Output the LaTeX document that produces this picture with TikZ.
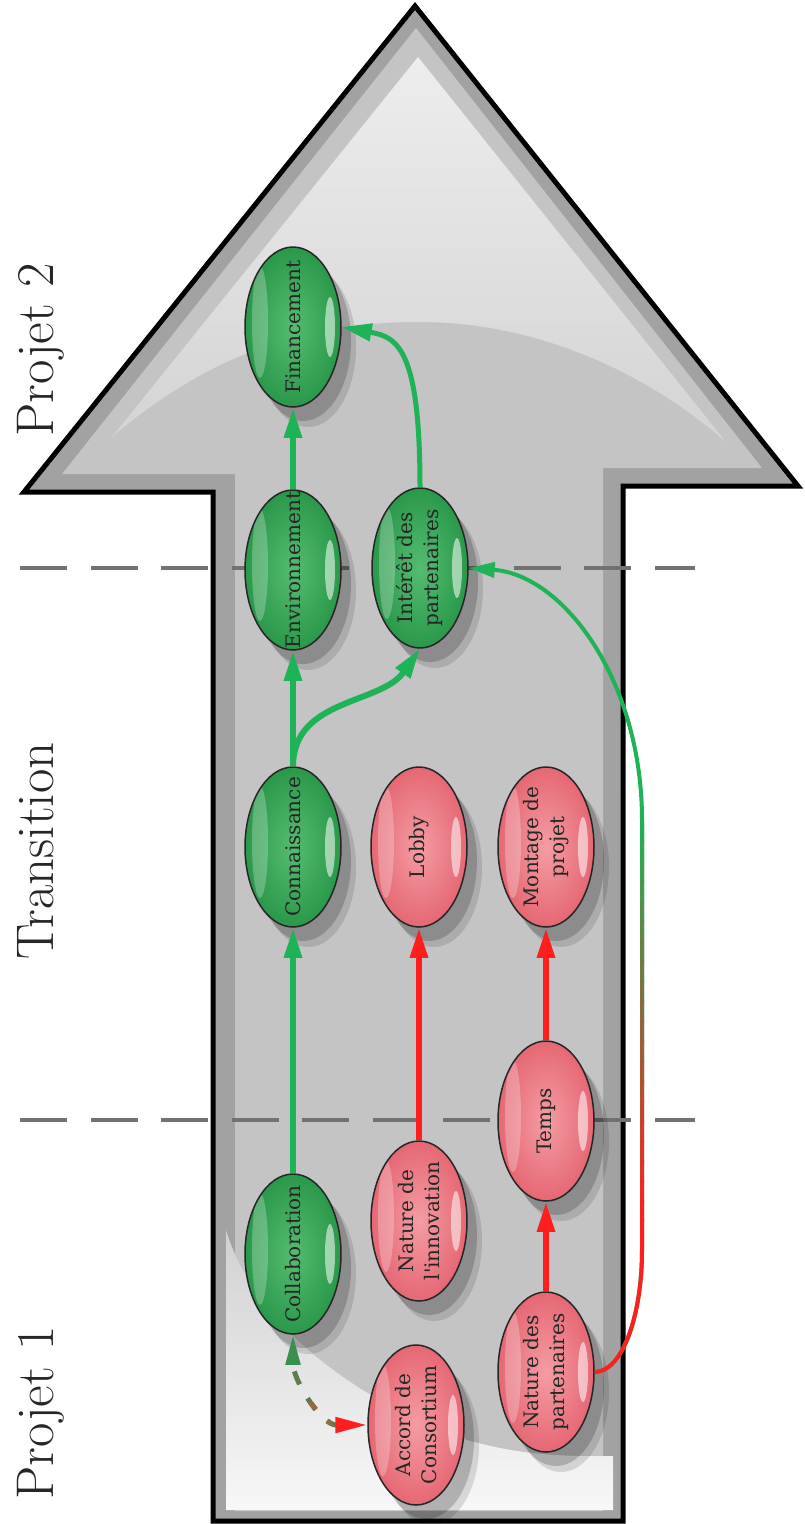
\documentclass[tikz,border=0pt]{standalone}
\usepackage{fontspec}
\newfontfamily\bubfont{DejaVu Serif}
\usetikzlibrary{arrows.meta,shadows,shapes.geometric}

\definecolor{grnline}{HTML}{1DB356}
\definecolor{redline}{HTML}{FF1E1E}
\definecolor{grnfill}{HTML}{55BC70}
\definecolor{grndark}{HTML}{2A984A}
\definecolor{redfill}{HTML}{F49CA4}
\definecolor{reddark}{HTML}{E56874}
\definecolor{rimgray}{HTML}{A2A2A2}
\definecolor{shaftgray}{HTML}{C4C4C4}
\definecolor{sepgray}{HTML}{727272}
\definecolor{olivedash}{HTML}{5E7D4A}
\definecolor{browndash}{HTML}{946A44}
\definecolor{grntip}{HTML}{3B8F4E}

\begin{document}
\begin{tikzpicture}[x=1pt, y=1pt,
        bub/.style={ellipse, draw=black!85, line width=1.5pt, minimum width=96pt,
            minimum height=160pt, inner sep=0pt,
            drop shadow={shadow xshift=15pt, shadow yshift=-20pt, fill=black, opacity=.12},
            drop shadow={shadow xshift=10pt, shadow yshift=-14pt, fill=black, opacity=.18},
            path picture={
                \fill[white, opacity=.25] ([xshift=-33pt, yshift=5pt]path picture bounding box.center) ellipse (8pt and 56pt);
                \fill[white, opacity=.55] ([xshift=37pt]path picture bounding box.center) ellipse (5pt and 30pt);
            }},
        gbub/.style={bub, inner color=grnfill, outer color=grndark},
        rbub/.style={bub, inner color=redfill, outer color=reddark},
        txt/.style={rotate=90, align=center, inner sep=0pt, text=black!85,
            font=\bubfont\fontsize{20}{26}\selectfont},
        stage/.style={rotate=90, anchor=base, text=black!85, font=\fontsize{53}{60}\selectfont},
        gedge/.style={draw=grnline, line width=6pt, -{Triangle[length=30pt, width=17pt]}},
        redge/.style={draw=redline, line width=6pt, -{Triangle[length=30pt, width=17pt]}},
        sep/.style={draw=sepgray, line width=4pt, dash pattern=on 47pt off 23.5pt},
        consort/.style={line width=5pt, dash pattern=on 14pt off 16pt, dash phase=22pt,
            {Triangle[length=30pt, width=14pt, color=grntip]}-{Triangle[length=32pt, width=15pt, color=redline]}}
    ]

    \useasboundingbox (0,0) rectangle (804,-1524);

    % big arrow
    \fill[rimgray] (415,-6) -- (798,-486) -- (623,-486) -- (623,-1521) -- (213,-1521)
        -- (213,-492) -- (24,-492) -- cycle;
    \fill[shaftgray] (416,-28) -- (762,-468) -- (603,-468) -- (603,-1511) -- (235,-1511)
        -- (235,-474) -- (62,-474) -- cycle;
    % gloss in the head and at the foot
    \shade[top color=gray!14, bottom color=gray!34] (418,-57) -- (112,-437)
        .. controls (220,-345) and (320,-322) .. (420,-322)
        .. controls (540,-322) and (650,-375) .. (726,-442) -- cycle;
    \shade[top color=gray!36, bottom color=gray!6] (226,-1230)
        .. controls (250,-1310) and (330,-1390) .. (467,-1440)
        .. controls (530,-1458) and (580,-1456) .. (613,-1456) -- (613,-1510) -- (226,-1510) -- cycle;
    \draw[line width=5pt, line join=miter] (415,-6) -- (798,-486) -- (623,-486) -- (623,-1521)
        -- (213,-1521) -- (213,-492) -- (24,-492) -- cycle;

    % phase limits
    \draw[sep] (20,-568) -- (695,-568);
    \draw[sep] (20,-1120) -- (695,-1120);

    \node[stage] at (53,-350) {Projet 2};
    \node[stage] at (53,-851) {Transition};
    \node[stage] at (53,-1413) {Projet 1};

    % factors
    \node[gbub, label={[txt]center:Financement}] (fin) at (293,-327) {};
    \node[gbub, label={[txt]center:Environnement}] (env) at (293,-570) {};
    \node[gbub, label={[txt]center:{Intérêt des\\partenaires}}] (int) at (420,-568) {};
    \node[gbub, label={[txt]center:Connaissance}] (conn) at (293,-847) {};
    \node[rbub, label={[txt]center:Lobby}] (lobby) at (419,-847) {};
    \node[rbub, label={[txt]center:{Montage de\\projet}}] (mont) at (546,-847) {};
    \node[rbub, label={[txt]center:Temps}] (temps) at (546,-1121) {};
    \node[gbub, label={[txt]center:Collaboration}] (collab) at (293,-1254) {};
    \node[rbub, label={[txt]center:{Nature de\\l'innovation}}] (natinn) at (419,-1221) {};
    \node[rbub, label={[txt]center:{Accord de\\Consortium}}] (accord) at (416,-1425) {};
    \node[rbub, label={[txt]center:{Nature des\\partenaires}}] (natpart) at (546,-1372) {};

    % links
    \draw[gedge] (env) -- (fin);
    \draw[gedge] (conn) -- (env);
    \draw[gedge] (collab) -- (conn);
    \draw[gedge] (conn.north) to[out=90, in=-125] (int.south);
    \draw[gedge, line width=5pt] (int.north) .. controls +(0,140) and +(55,-10) .. (fin.east);
    \draw[redge] (natinn) -- (lobby);
    \draw[redge] (temps) -- (mont);
    \draw[redge] (natpart) -- (temps);

    % long link, red to green
    \coordinate (lowbend) at (642,-1250);
    \coordinate (highbend) at (642,-820);
    \def\longroute{(natpart.east) .. controls +(27,0) and +(0,-67) .. (lowbend) -- (highbend)
        .. controls +(0,139) and +(95,-7) .. (int.east)}
    \draw[grnline, line width=4pt, -{Triangle[length=26pt, width=15pt]}] \longroute;
    \foreach \k in {0,...,19} {
        \pgfmathtruncatemacro\pc{5*\k+3}
        \begin{scope}
            \clip (600,-820-20*\k) rectangle (700,-841-20*\k);
            \draw[redline!\pc!grnline, line width=4pt] \longroute;
        \end{scope}
    }
    \begin{scope}
        \clip (560,-1219) rectangle (700,-1420);
        \draw[redline, line width=4pt] \longroute;
    \end{scope}

    % agreement link
    \draw[consort, draw=olivedash] (collab.south) to[out=-90, in=180] (accord.west);
    \begin{scope}
        \clip (280,-1402) rectangle (332,-1440);
        \draw[consort, draw=browndash] (collab.south) to[out=-90, in=180] (accord.west);
    \end{scope}

\end{tikzpicture}
\end{document}
